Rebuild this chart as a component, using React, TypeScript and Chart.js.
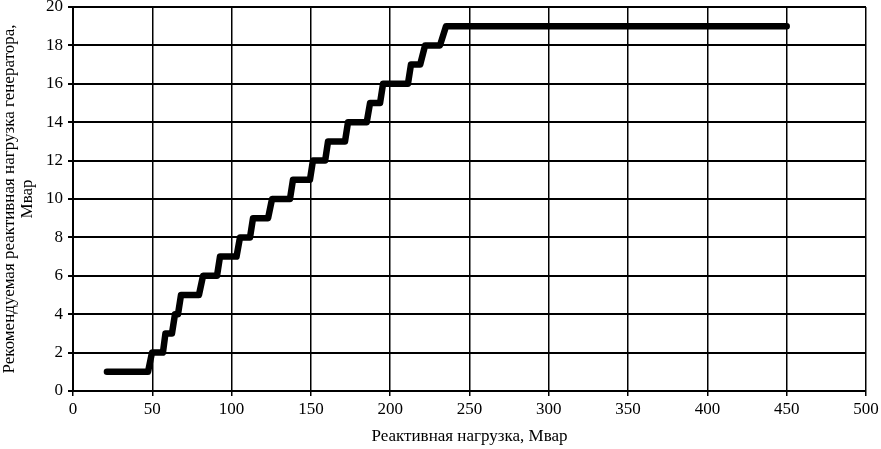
import React, { useEffect, useRef } from "react";
import { Chart, registerables } from "chart.js";

Chart.register(...registerables);

// Recommended generator reactive load (Mvar) for each step
const stepLevels = [1, 2, 3, 4, 5, 6, 7, 8, 9, 10, 11, 12, 13, 14, 15, 16, 17, 18, 19];
// Reactive load (Mvar) where each step level begins
const stepStartLoad = [21.4, 49.8, 58.3, 64.3, 68.1, 82, 92.7, 105.3, 113.5, 125.5, 138.7, 151.3, 160.8, 173.4, 187.3, 195.5, 213.1, 222, 235.2];
// Reactive load (Mvar) where each step level ends
const stepEndLoad = [47.3, 56.7, 62.4, 66.2, 79.4, 90.8, 103.1, 111.6, 123, 136.8, 149.4, 159, 171.5, 185.2, 193.6, 211.2, 218.9, 231.4, 450];

const xTitle = "Реактивная нагрузка, Мвар";
const yTitle = ["Рекомендуемая реактивная нагрузка генератора,", "Мвар"];

const xMin = 0, xMax = 500, xStep = 50;
const yMin = 0, yMax = 20, yStep = 2;

export default function App() {
  const canvasRef = useRef<HTMLCanvasElement | null>(null);

  useEffect(() => {
    const canvas = canvasRef.current;
    if (!canvas) return;
    const points: { x: number; y: number }[] = [];
    stepLevels.forEach((lv, i) => {
      points.push({ x: stepStartLoad[i], y: lv });
      points.push({ x: stepEndLoad[i], y: lv });
    });
    const fontFamily = "'Liberation Serif', 'Times New Roman', serif";
    const chart = new Chart(canvas, {
      type: "line",
      data: {
        datasets: [
          {
            data: points,
            borderColor: "#000",
            borderWidth: 6.5,
            borderCapStyle: "round",
            borderJoinStyle: "round",
            pointRadius: 0,
            tension: 0,
            fill: false,
          },
        ],
      },
      options: {
        animation: false,
        responsive: false,
        maintainAspectRatio: false,
        layout: { padding: 0 },
        plugins: { legend: { display: false }, tooltip: { enabled: false } },
        scales: {
          x: {
            type: "linear",
            min: xMin,
            max: xMax,
            ticks: { stepSize: xStep, color: "#000", padding: 5, font: { family: fontFamily, size: 17, lineHeight: 1 } },
            grid: { color: "#000", lineWidth: 1.5, tickLength: 5 },
            border: { color: "#000", width: 2 },
            title: {
              display: true,
              text: xTitle,
              color: "#000",
              font: { family: fontFamily, size: 17, lineHeight: 1.1 },
              padding: { top: 0, bottom: 3 },
            },
            afterFit: (scale: any) => {
              scale.height = 58;
              scale.paddingRight = 15;
            },
          },
          y: {
            type: "linear",
            min: yMin,
            max: yMax,
            ticks: { stepSize: yStep, color: "#000", padding: 5, font: { family: fontFamily, size: 17 } },
            grid: { color: "#000", lineWidth: 2, tickLength: 5 },
            border: { color: "#000", width: 2 },
            title: {
              display: true,
              text: yTitle,
              color: "#000",
              font: { family: fontFamily, size: 17, lineHeight: 1.08 },
              padding: { top: 0, bottom: 0 },
            },
            afterFit: (scale: any) => {
              scale.width = 73;
              scale.paddingTop = 7;
            },
          },
        },
      },
    });
    return () => chart.destroy();
  }, []);

  return (
    <div style={{ position: "fixed", left: 0, top: 0, width: 881, height: 449, background: "#fff" }}>
      <canvas ref={canvasRef} width={881} height={449} style={{ display: "block" }} />
    </div>
  );
}
